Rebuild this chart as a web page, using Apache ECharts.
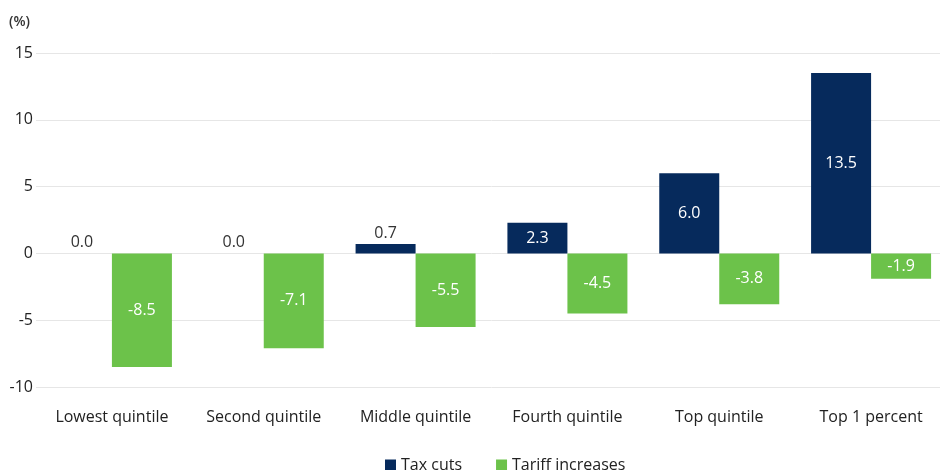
<!DOCTYPE html>
<html><head><meta charset="utf-8">
<script src="https://cdn.jsdelivr.net/npm/echarts@6/dist/echarts.min.js"></script>
<style>html,body{margin:0;padding:0;background:#fff;overflow:hidden}#c{width:952px;height:470px}</style>
</head><body><div id="c"></div>
<script>
const categories = ['Lowest quintile','Second quintile','Middle quintile','Fourth quintile','Top quintile','Top 1 percent'];
const taxCuts = [0.0, 0.0, 0.7, 2.3, 6.0, 13.5];
const tariffIncreases = [-8.5, -7.1, -5.5, -4.5, -3.8, -1.9];
const yTicks = [-10, -5, 0, 5, 10, 15];

const FONT = "'Open Sans', 'Noto Sans', sans-serif";
const NAVY = '#062a5c';
const GREEN = '#6cc24a';

function labelFor(v) {
  if (Math.abs(v) < 1.5) {
    return { show: true, position: 'top', color: '#333', fontSize: 16, distance: 3 };
  }
  return { show: true, position: 'inside', color: '#fff', fontSize: 16 };
}

const chart = echarts.init(document.getElementById('c'), null, { renderer: 'canvas' });
chart.setOption({
  animation: false,
  textStyle: { fontFamily: FONT },
  graphic: [{ type: 'text', left: 9, top: 15, style: { text: '(%)', font: '600 14px ' + FONT, fill: '#333' } }],
  grid: { left: 36, width: 911, top: 53, bottom: 83 },
  legend: {
    top: 452, left: 380, itemWidth: 11, itemHeight: 11, itemGap: 34,
    icon: 'rect',
    textStyle: { fontSize: 16, color: '#222', fontFamily: FONT },
    data: ['Tax cuts', 'Tariff increases']
  },
  xAxis: {
    type: 'category', data: categories,
    axisLine: { show: false }, axisTick: { show: false },
    axisLabel: { fontSize: 16, color: '#222', margin: 22, fontFamily: FONT }
  },
  yAxis: {
    type: 'value', min: yTicks[0], max: yTicks[yTicks.length - 1], interval: 5,
    axisLine: { show: false }, axisTick: { show: false },
    axisLabel: { fontSize: 16, color: '#222', margin: 3, fontFamily: FONT },
    splitLine: { lineStyle: { color: '#e6e6e6', width: 1 } }
  },
  series: [
    {
      name: 'Tax cuts', type: 'bar', barWidth: 60, barGap: '0%',
      itemStyle: { color: NAVY },
      data: taxCuts.map(v => ({ value: v, label: labelFor(v) })),
      label: { show: true, formatter: p => p.value.toFixed(1), fontFamily: FONT }
    },
    {
      name: 'Tariff increases', type: 'bar', barWidth: 60, barGap: '0%',
      itemStyle: { color: GREEN },
      data: tariffIncreases.map(v => ({ value: v, label: labelFor(v) })),
      label: { show: true, formatter: p => p.value.toFixed(1), fontFamily: FONT }
    }
  ]
});
</script></body></html>
